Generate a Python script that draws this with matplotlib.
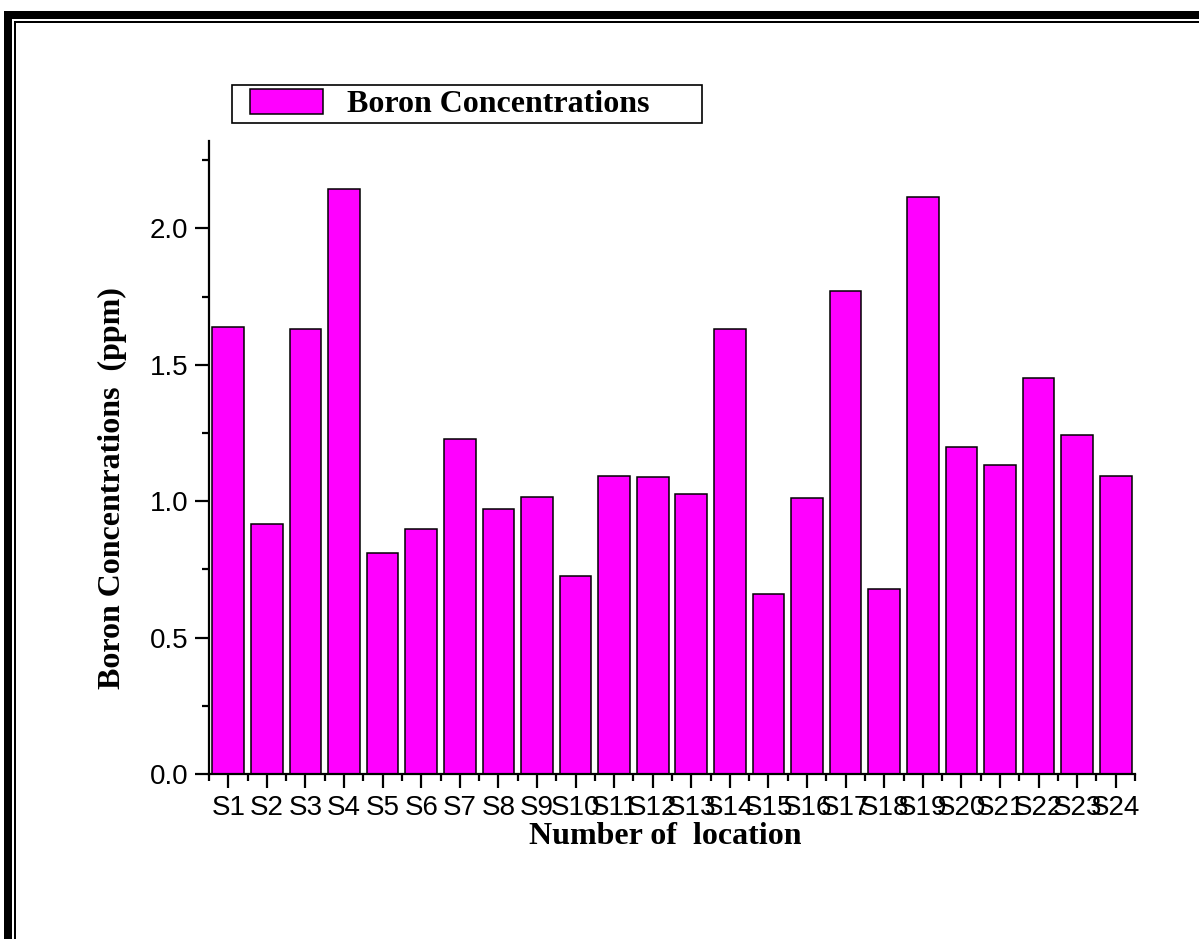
import matplotlib.pyplot as plt
from matplotlib.patches import Rectangle
from matplotlib.ticker import MultipleLocator, FixedLocator

# data
sites = ['S%d' % i for i in range(1, 25)]
boron = [1.64, 0.915, 1.63, 2.145, 0.81, 0.897, 1.226, 0.973, 1.015, 0.724,
         1.093, 1.088, 1.028, 1.63, 0.66, 1.012, 1.769, 0.679, 2.116, 1.199,
         1.132, 1.453, 1.244, 1.092]

W, H = 1199, 939
fig = plt.figure(figsize=(W / 100, H / 100), dpi=100)
ax = fig.add_axes([209 / W, (H - 774) / H, 926 / W, 633 / H])

x = list(range(1, len(sites) + 1))
ax.bar(x, boron, width=0.82, color='#FF00FF', edgecolor='black',
       linewidth=1.1, label='Boron Concentrations')

ax.set_xlim(0.5, 24.5)
ax.set_ylim(0, 2.32)

for side in ['top', 'right']:
    ax.spines[side].set_visible(False)
for side in ['left', 'bottom']:
    ax.spines[side].set_linewidth(1.6)

ax.set_xticks(x)
ax.set_xticklabels(sites)
ax.xaxis.set_minor_locator(FixedLocator([i + 0.5 for i in range(0, 25)]))
ax.yaxis.set_major_locator(MultipleLocator(0.5))
ax.yaxis.set_minor_locator(MultipleLocator(0.25))
ax.yaxis.set_major_formatter(plt.FormatStrFormatter('%.1f'))

ax.tick_params(which='major', direction='out', length=10, width=1.6,
               labelsize=20, pad=5)
ax.tick_params(which='minor', direction='out', length=5, width=1.6)
for lab in ax.get_xticklabels() + ax.get_yticklabels():
    lab.set_fontfamily('Liberation Sans')

ax.set_xlabel('Number of  location', fontfamily='Liberation Serif',
              fontweight='bold', fontsize=23)
ax.set_ylabel('Boron Concentrations  (ppm)', fontfamily='Liberation Serif',
              fontweight='bold', fontsize=23)
ax.xaxis.set_label_coords((665 - 209) / 926, (774 - 822) / 633)
ax.yaxis.set_label_coords((127 - 209) / 926, (774 - 488) / 633)

# legend contents without frame, frame drawn as its own box
leg = ax.legend(loc='center left',
                bbox_to_anchor=(250 / W, (H - 104) / H),
                bbox_transform=fig.transFigure,
                prop={'family': 'Liberation Serif', 'weight': 'bold', 'size': 23},
                handlelength=2.3, handleheight=0.85, handletextpad=0.75,
                borderpad=0, borderaxespad=0, frameon=False)
fig.add_artist(Rectangle((232 / W, (H - 123) / H), 470 / W, 38 / H,
                         transform=fig.transFigure, facecolor='none',
                         edgecolor='black', lw=1.2))

# page frame lines (top and left)
frame = [(4, 11, W - 4, 8), (4, 11, 8, H - 11),
         (14, 21, W - 14, 2), (14, 21, 2, H - 21)]
for fx, fy, fw, fh in frame:
    fig.add_artist(Rectangle((fx / W, (H - fy - fh) / H), fw / W, fh / H,
                             transform=fig.transFigure, color='black', lw=0))

fig.savefig('out.png', dpi=100)
